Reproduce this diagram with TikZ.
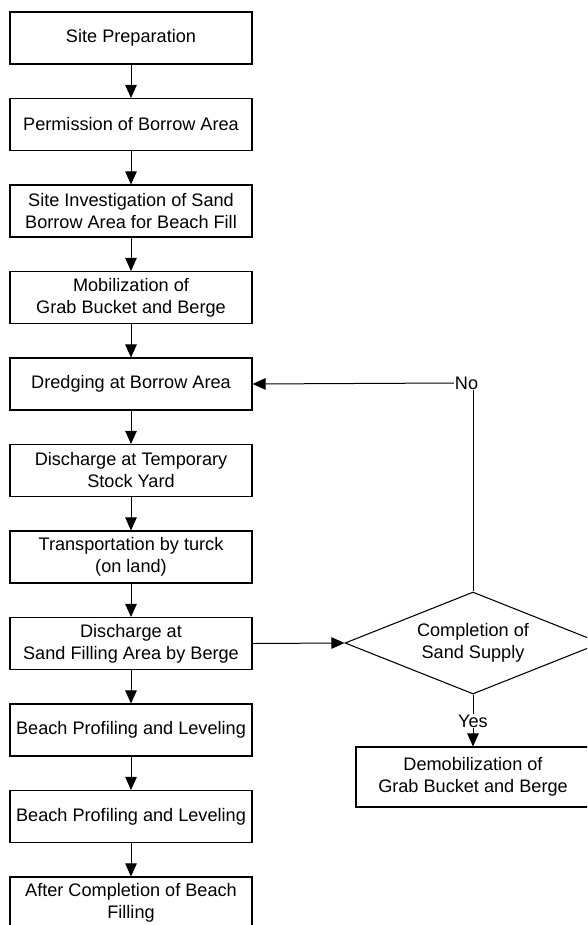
\documentclass[tikz,border=0pt]{standalone}
\usepackage{fontspec}
\setmainfont{Liberation Sans}
\usetikzlibrary{shapes.geometric,arrows.meta}
\begin{document}
\begin{tikzpicture}[x=0.75pt,y=-0.75pt,
  every node/.style={font=\fontsize{13.6}{16.5}\selectfont},
  stepbox/.style={draw, line width=0.8pt, rectangle, minimum width=181.5pt,
    minimum height=39pt, inner sep=0pt, align=center},
  endbox/.style={stepbox, minimum width=175.5pt, minimum height=45pt},
  decision/.style={draw, line width=0.8pt, diamond, shape aspect=2.5,
    minimum width=192pt, minimum height=76.5pt, inner sep=0pt, align=center},
  lbl/.style={inner sep=0.6pt},
  flow/.style={line width=0.75pt, -{Triangle[length=9.75pt,width=8.6pt]}},
  plain/.style={line width=0.75pt}]
\path[use as bounding box] (0,0) rectangle (587,925);
\clip (0,0) rectangle (587,925);

% main sequence of steps
\node[stepbox] (b1)  at (131,38)    {Site Preparation};
\node[stepbox] (b2)  at (131,124.5) {Permission of Borrow Area};
\node[stepbox] (b3)  at (131,211)   {Site Investigation of Sand\\Borrow Area for Beach Fill};
\node[stepbox] (b4)  at (131,297.5) {Mobilization of\\Grab Bucket and Berge};
\node[stepbox] (b5)  at (131,384)   {Dredging at Borrow Area};
\node[stepbox] (b6)  at (131,470.5) {Discharge at Temporary\\Stock Yard};
\node[stepbox] (b7)  at (131,557)   {Transportation by turck\\(on land)};
\node[stepbox] (b8)  at (131,643.5) {Discharge at\\Sand Filling Area by Berge};
\node[stepbox] (b9)  at (131,730)   {Beach Profiling and Leveling};
\node[stepbox] (b10) at (131,816.5) {Beach Profiling and Leveling};
\node[stepbox] (b11) at (131,903)   {After Completion of Beach\\Filling};

% decision branch
\node[decision] (d) at (473,643) {Completion of\\Sand Supply};
\node[lbl] (no)  at (466.5,383) {No};
\node[lbl] (yes) at (473,721)   {Yes};
\node[endbox] (demob) at (473,777) {Demobilization of\\Grab Bucket and Berge};

% connectors
\foreach \a/\b in {b1/b2,b2/b3,b3/b4,b4/b5,b5/b6,b6/b7,b7/b8,b8/b9,b9/b10,b10/b11}
  \draw[flow] (\a) -- (\b);
\draw[flow] (b8.east) -- (d.west);
\draw[plain] (d.north) -- (d.north |- no.south);
\draw[flow] (no.west) -- (b5.east);
\draw[plain] (d.south) -- (yes.north);
\draw[flow] (yes.south) -- (demob.north);
\end{tikzpicture}
\end{document}
